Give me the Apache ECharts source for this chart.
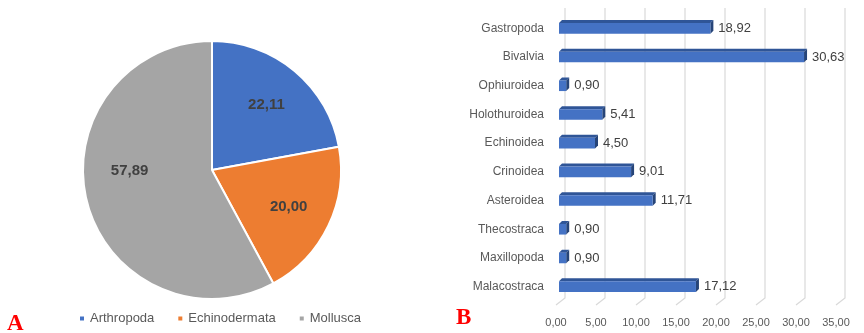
<!DOCTYPE html>
<html>
<head>
<meta charset="utf-8">
<script src="https://cdn.jsdelivr.net/npm/echarts@6/dist/echarts.min.js"></script>
<style>
  html, body { margin: 0; padding: 0; background: #fff; }
  #chart { width: 864px; height: 333px; }
</style>
</head>
<body>
<div id="chart"></div>
<script>
// Panel A: share of phyla
const phyla = ['Arthropoda', 'Echinodermata', 'Mollusca'];
const phylaValues = [22.11, 20.00, 57.89];
const phylaColors = ['#4472C4', '#ED7D31', '#A5A5A5'];

// Panel B: share of classes
const classes = ['Gastropoda', 'Bivalvia', 'Ophiuroidea', 'Holothuroidea', 'Echinoidea',
  'Crinoidea', 'Asteroidea', 'Thecostraca', 'Maxillopoda', 'Malacostraca'];
const classValues = [18.92, 30.63, 0.90, 5.41, 4.50, 9.01, 11.71, 0.90, 0.90, 17.12];
const xTicks = [0, 5, 10, 15, 20, 25, 30, 35];

const fmt = v => Number(v).toFixed(2).replace('.', ',');
const FONT = '"Liberation Sans", Arial, sans-serif';

const chart = echarts.init(document.getElementById('chart'), null, { renderer: 'canvas' });

const pieData = phyla.map((n, i) => ({ name: n, value: phylaValues[i], itemStyle: { color: phylaColors[i] } }));

// 3D-looking horizontal bar
function renderBar(params, api) {
  const v = api.value(0);
  const c = api.value(1);
  const start = api.coord([0, c]);
  const end = api.coord([v, c]);
  const band = api.size([0, 1])[1];
  const h = band * 0.37;
  const d = 3;
  const x0 = start[0], x1 = end[0];
  const yT = start[1] - h / 2, yB = start[1] + h / 2;
  return {
    type: 'group',
    children: [
      { type: 'polygon', shape: { points: [[x0, yT], [x0 + d, yT - d], [x1 + d, yT - d], [x1, yT]] },
        style: { fill: '#2F5597' } },
      { type: 'polygon', shape: { points: [[x1, yT], [x1 + d, yT - d], [x1 + d, yB - d], [x1, yB]] },
        style: { fill: '#264478' } },
      { type: 'rect', shape: { x: x0, y: yT, width: x1 - x0, height: h },
        style: { fill: '#4472C4' } },
      { type: 'text', x: x1 + d + 5, y: start[1],
        style: { text: fmt(v), fill: '#404040', font: '13px ' + FONT, verticalAlign: 'middle', align: 'left' } }
    ]
  };
}

// Gridlines drawn on the back wall with a slanted floor segment
function renderGrid(params, api) {
  const v = api.value(0);
  const cs = params.coordSys;
  const x = api.coord([v, 0])[0];
  const bottom = cs.y + cs.height;
  return {
    type: 'polyline',
    shape: { points: [[x + 6, cs.y - 6], [x + 6, bottom - 3], [x - 3, bottom + 4]] },
    style: { stroke: '#D9D9D9', lineWidth: 1.2, fill: null },
    z2: 0
  };
}

const option = {
  animation: false,
  backgroundColor: '#fff',
  textStyle: { fontFamily: FONT },
  graphic: [
    { type: 'text', left: 7, top: 313, style: { text: 'A', fill: '#FF0000', font: 'bold 23px "Liberation Serif", "DejaVu Serif", serif' } },
    { type: 'text', left: 456, top: 307, style: { text: 'B', fill: '#FF0000', font: 'bold 23px "Liberation Serif", "DejaVu Serif", serif' } }
  ],
  legend: {
    data: phyla,
    left: 73,
    top: 307,
    itemWidth: 6,
    itemHeight: 6,
    itemGap: 22,
    icon: 'rect',
    textStyle: { color: '#595959', fontSize: 13, fontFamily: FONT }
  },
  grid: { left: 559, width: 280, top: 14, height: 287 },
  xAxis: {
    type: 'value', min: 0, max: 35, interval: 5,
    axisLine: { show: false }, axisTick: { show: false }, splitLine: { show: false },
    axisLabel: { formatter: fmt, color: '#595959', fontSize: 11, margin: 16, padding: [0, 6, 0, 0] }
  },
  yAxis: {
    type: 'category', data: classes, inverse: true,
    axisLine: { show: false }, axisTick: { show: false },
    axisLabel: { color: '#595959', fontSize: 12, margin: 15 }
  },
  series: [
    {
      type: 'pie',
      center: [212, 170],
      radius: 129,
      startAngle: 90,
      clockwise: true,
      data: pieData,
      itemStyle: { borderColor: '#fff', borderWidth: 2 },
      label: { show: false },
      labelLine: { show: false },
      emphasis: { disabled: true }
    },
    {
      // transparent ring that carries the value labels
      type: 'pie',
      center: [212, 170],
      radius: [60, 104],
      startAngle: 90,
      clockwise: true,
      silent: true,
      data: phyla.map((n, i) => ({ name: n, value: phylaValues[i] })),
      itemStyle: { color: 'rgba(0,0,0,0)' },
      label: {
        show: true, position: 'inside',
        formatter: p => fmt(p.value),
        color: '#404040', fontSize: 15, fontWeight: 'bold', fontFamily: FONT
      },
      labelLayout: p => (p.dataIndex === 2 ? { dy: -20 } : {}),
      labelLine: { show: false },
      emphasis: { disabled: true }
    },
    {
      type: 'custom',
      renderItem: renderGrid,
      data: xTicks.map(t => [t, 0]),
      encode: { x: 0, y: 1 },
      silent: true,
      z: 1
    },
    {
      type: 'custom',
      renderItem: renderBar,
      data: classValues.map((v, i) => [v, i]),
      encode: { x: 0, y: 1 },
      z: 5
    }
  ]
};

chart.setOption(option);
</script>
</body>
</html>
